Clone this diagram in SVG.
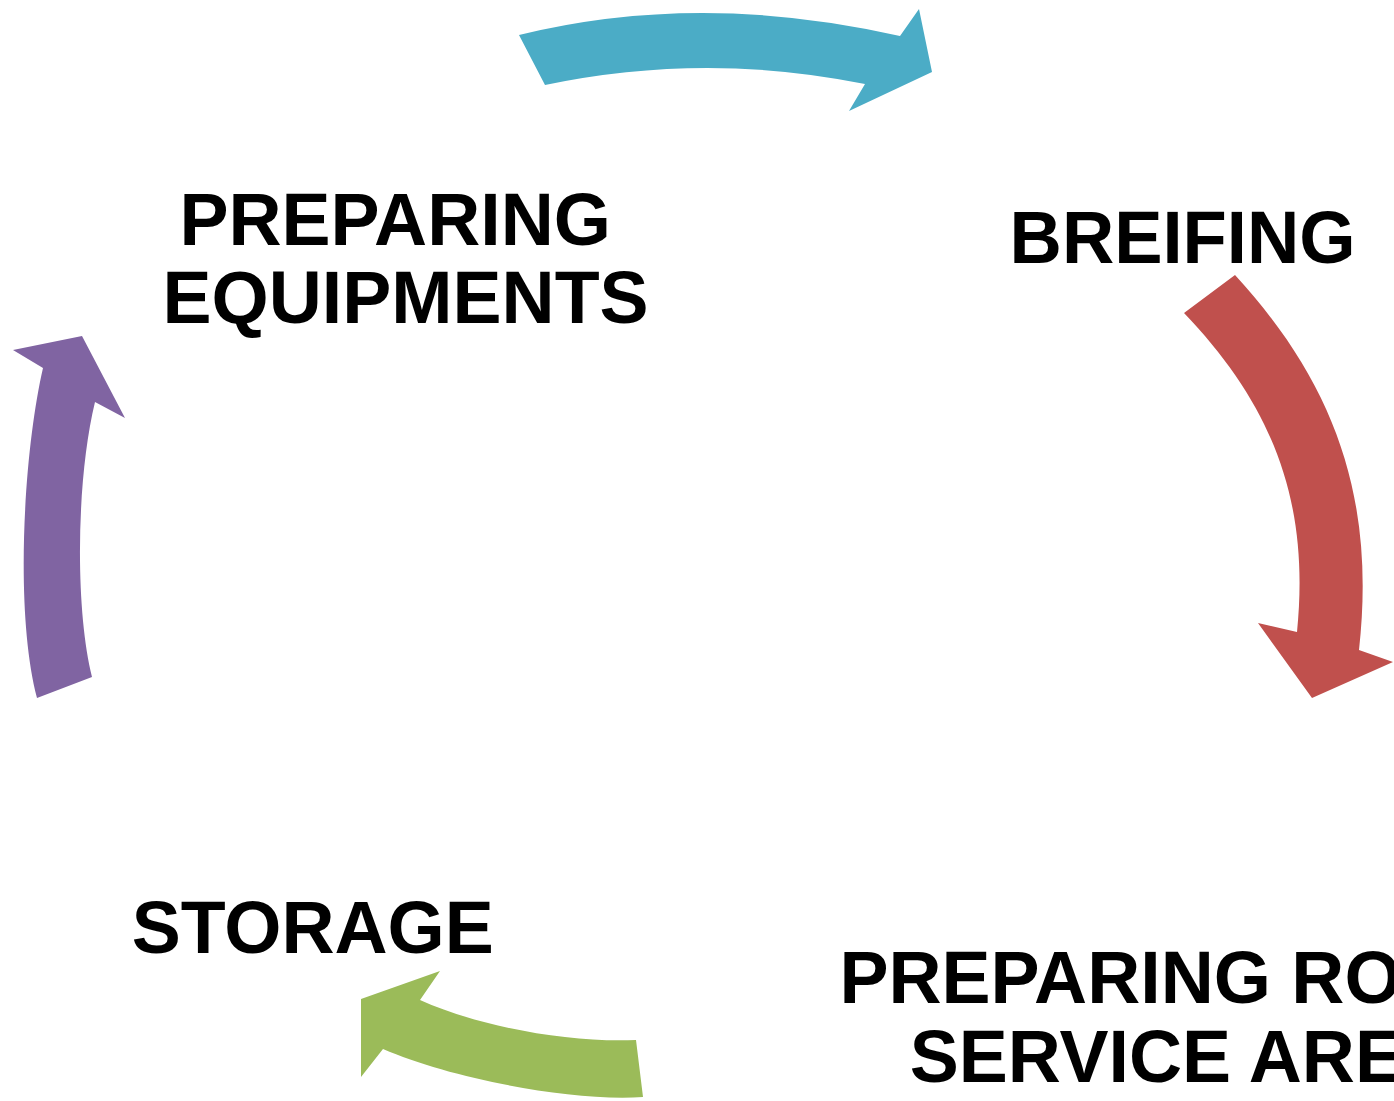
<svg xmlns="http://www.w3.org/2000/svg" width="1394" height="1101" viewBox="0 0 1394 1101">
<style>
.lbl{font-family:"Liberation Sans",Arial,sans-serif;font-weight:bold;font-size:73.5px;fill:#000}
</style>
<rect width="1394" height="1101" fill="#fff"/>
<g id="connectors">
<path id="arrow-blue" fill="#4BACC6" d="M519,35 Q700,-9.5 900,36 L919,9 L932,72 L849,111 L865,84 Q705,51.5 545,85 Z"/>
<path id="arrow-red" fill="#C0504D" d="M1184,313 L1235,275 C1337,386 1375.5,501.5 1359,650 L1393,662 L1312,698 L1258,623 L1297,632 C1310,503 1273.7,406.6 1184,313 Z"/>
<path id="arrow-green" fill="#9BBB59" d="M636,1040 L643,1097 C570,1102 450,1078 383,1049 L361,1077 L361,999 L440,971 L420,1000 C480,1027 570,1043 636,1040 Z"/>
<path id="arrow-purple" fill="#8064A2" d="M37,698 L92,677 C75,610 76,480 95,402 L125,418 L82,336 L13,350 L43,368 C24,450 14,610 37,698 Z"/>
</g>
<g id="node-preparing-equipments">
<text class="lbl" x="179.4" y="245">PREPARING</text>
<text class="lbl" x="162.6" y="323">EQUIPMENTS</text>
</g>
<g id="node-breifing">
<text class="lbl" x="1009.6" y="263" textLength="346" lengthAdjust="spacingAndGlyphs">BREIFING</text>
</g>
<g id="node-preparing-room">
<text class="lbl" x="839.4" y="1003">PREPARING RO</text>
<text class="lbl" x="909.7" y="1081.5">SERVICE ARE</text>
</g>
<g id="node-storage">
<text class="lbl" x="131.7" y="953">STORAGE</text>
</g>
</svg>
